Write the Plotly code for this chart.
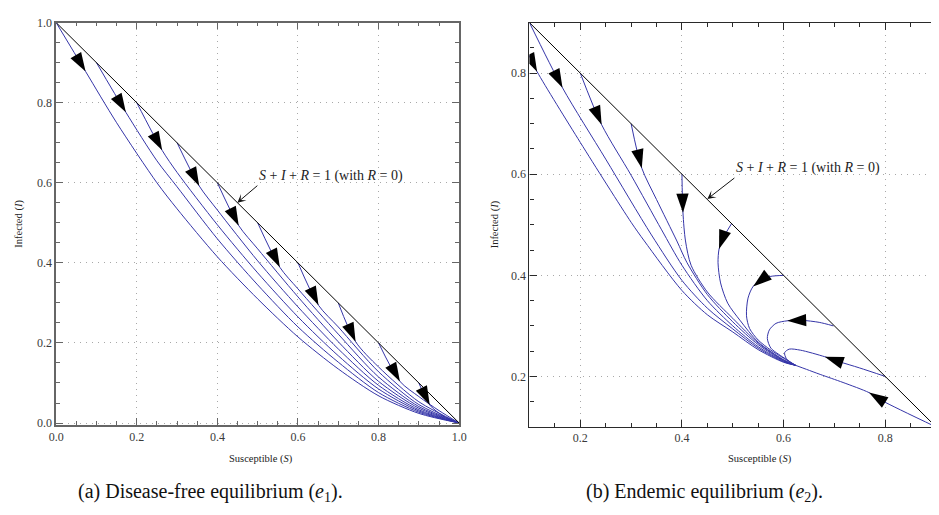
import plotly.graph_objects as go

# ---------------- (a) disease-free equilibrium ----------------
# trajectories in the (S, I) plane, one per starting point on S + I = 1
a_S = [
    [0.0, 0.073, 0.15, 0.25, 0.30, 0.40, 0.50, 0.60, 0.70, 0.80, 0.90, 1.0],
    [0.1, 0.173, 0.25, 0.30, 0.40, 0.50, 0.60, 0.70, 0.80, 0.90, 1.0],
    [0.2, 0.263, 0.30, 0.40, 0.50, 0.60, 0.70, 0.80, 0.90, 1.0],
    [0.3, 0.355, 0.40, 0.50, 0.60, 0.70, 0.80, 0.90, 1.0],
    [0.4, 0.453, 0.50, 0.60, 0.70, 0.80, 0.90, 1.0],
    [0.5, 0.555, 0.60, 0.70, 0.80, 0.90, 1.0],
    [0.6, 0.651, 0.70, 0.80, 0.90, 1.0],
    [0.7, 0.743, 0.80, 0.90, 1.0],
    [0.8, 0.853, 0.90, 0.95, 1.0],
    [0.9, 0.927, 0.96, 1.0],
]
a_I = [
    [1.0, 0.878, 0.75, 0.60, 0.535, 0.415, 0.31, 0.215, 0.135, 0.068, 0.024, 0.0],
    [0.9, 0.776, 0.655, 0.59, 0.46, 0.345, 0.24, 0.152, 0.076, 0.027, 0.0],
    [0.8, 0.681, 0.626, 0.495, 0.375, 0.265, 0.168, 0.085, 0.030, 0.0],
    [0.7, 0.592, 0.532, 0.405, 0.29, 0.185, 0.094, 0.033, 0.0],
    [0.6, 0.493, 0.435, 0.315, 0.203, 0.104, 0.037, 0.0],
    [0.5, 0.389, 0.335, 0.222, 0.115, 0.041, 0.0],
    [0.4, 0.294, 0.24, 0.128, 0.046, 0.0],
    [0.3, 0.203, 0.14, 0.053, 0.0],
    [0.2, 0.104, 0.066, 0.031, 0.0],
    [0.1, 0.045, 0.018, 0.0],
]
# direction arrows: a point behind the head and the head itself
a_tail_S = [0.0, 0.1, 0.2, 0.3, 0.4, 0.5, 0.6, 0.7, 0.8, 0.9]
a_tail_I = [1.0, 0.9, 0.8, 0.7, 0.6, 0.5, 0.4, 0.3, 0.2, 0.1]
a_tip_S = [0.073, 0.173, 0.263, 0.355, 0.453, 0.555, 0.651, 0.743, 0.853, 0.927]
a_tip_I = [0.878, 0.776, 0.681, 0.592, 0.493, 0.389, 0.294, 0.203, 0.104, 0.045]

# ---------------- (b) endemic equilibrium ----------------
b_S = [
    [0.0, 0.097, 0.115, 0.20, 0.30, 0.326, 0.40, 0.45, 0.50, 0.55, 0.60, 0.6235],
    [0.1, 0.165, 0.25, 0.34, 0.40, 0.45, 0.50, 0.55, 0.60, 0.6235],
    [0.2, 0.242, 0.30, 0.36, 0.40, 0.45, 0.50, 0.55, 0.60, 0.6235],
    [0.3, 0.321, 0.35, 0.39, 0.41, 0.45, 0.50, 0.55, 0.60, 0.6235],
    [0.4, 0.402, 0.407, 0.418, 0.45, 0.50, 0.55, 0.60, 0.6235],
    [0.498, 0.479, 0.473, 0.471, 0.476, 0.49, 0.515, 0.55, 0.60, 0.6235],
    [0.6, 0.575, 0.559, 0.54, 0.53, 0.527, 0.533, 0.55, 0.575, 0.60, 0.6235],
    [0.698, 0.67, 0.636, 0.607, 0.585, 0.572, 0.568, 0.575, 0.59, 0.605, 0.6235],
    [0.8, 0.749, 0.71, 0.681, 0.633, 0.611, 0.602, 0.605, 0.613, 0.6235],
    [0.9, 0.794, 0.768, 0.717, 0.672, 0.645, 0.6235],
]
b_I = [
    [1.0, 0.839, 0.803, 0.663, 0.505, 0.468, 0.37, 0.322, 0.288, 0.253, 0.228, 0.222],
    [0.9, 0.771, 0.63, 0.48, 0.39, 0.335, 0.294, 0.256, 0.229, 0.222],
    [0.8, 0.698, 0.598, 0.49, 0.42, 0.35, 0.30, 0.259, 0.230, 0.222],
    [0.7, 0.612, 0.55, 0.468, 0.425, 0.362, 0.308, 0.263, 0.231, 0.222],
    [0.6, 0.524, 0.468, 0.42, 0.367, 0.315, 0.266, 0.232, 0.222],
    [0.503, 0.47, 0.452, 0.425, 0.385, 0.345, 0.31, 0.268, 0.233, 0.222],
    [0.4, 0.398, 0.393, 0.378, 0.355, 0.32, 0.295, 0.272, 0.252, 0.236, 0.222],
    [0.30, 0.307, 0.311, 0.310, 0.305, 0.292, 0.275, 0.256, 0.244, 0.234, 0.222],
    [0.2, 0.217, 0.229, 0.239, 0.252, 0.254, 0.247, 0.236, 0.228, 0.222],
    [0.1, 0.152, 0.168, 0.188, 0.204, 0.214, 0.222],
]
b_tail_S = [0.097, 0.1, 0.2, 0.3, 0.4, 0.479, 0.559, 0.636, 0.71, 0.794]
b_tail_I = [0.839, 0.9, 0.8, 0.7, 0.6, 0.47, 0.393, 0.311, 0.229, 0.152]
b_tip_S = [0.115, 0.165, 0.242, 0.321, 0.402, 0.473, 0.54, 0.607, 0.681, 0.768]
b_tip_I = [0.803, 0.771, 0.698, 0.612, 0.524, 0.452, 0.378, 0.310, 0.239, 0.168]

# boundary S + I = 1 (R = 0) and where its label points to
edge_S = [0.0, 1.0]
edge_I = [1.0, 0.0]
pointer_a = (0.4496, 0.5504)
pointer_b = (0.450, 0.551)

# axis ticks
a_ticks = [0.0, 0.2, 0.4, 0.6, 0.8, 1.0]
a_ticktext = ["0.0", "0.2", "0.4", "0.6", "0.8", "1.0"]
b_ticks = [0.2, 0.4, 0.6, 0.8]
b_ticktext = ["0.2", "0.4", "0.6", "0.8"]

W, H = 939, 515
CURVE = "#3535a8"
SERIF = "Liberation Serif, Times New Roman, Times, serif"
TICKFONT = dict(family=SERIF, size=12, color="#3a3a3a")

fig = go.Figure()


def add_panel(S, I, tail_S, tail_I, tip_S, tip_I, xa, ya):
    for s, i in zip(S, I):
        fig.add_trace(go.Scatter(
            x=s, y=i, mode="lines", xaxis=xa, yaxis=ya,
            line=dict(color=CURVE, width=1, shape="spline", smoothing=0.8),
            hoverinfo="skip", showlegend=False))
    fig.add_trace(go.Scatter(
        x=edge_S, y=edge_I, mode="lines", xaxis=xa, yaxis=ya,
        line=dict(color="black", width=1), hoverinfo="skip", showlegend=False))
    # arrow heads: each head is oriented from the preceding (invisible) point
    xs, ys, sizes = [], [], []
    for ts, ti, hs, hi in zip(tail_S, tail_I, tip_S, tip_I):
        xs += [ts, hs]
        ys += [ti, hi]
        sizes += [0, 20]
    fig.add_trace(go.Scatter(
        x=xs, y=ys, mode="markers", xaxis=xa, yaxis=ya,
        marker=dict(symbol="arrow", size=sizes, angleref="previous",
                    color="black", opacity=1, line=dict(width=0)),
        hoverinfo="skip", showlegend=False))


add_panel(a_S, a_I, a_tail_S, a_tail_I, a_tip_S, a_tip_I, "x", "y")
add_panel(b_S, b_I, b_tail_S, b_tail_I, b_tip_S, b_tip_I, "x2", "y2")


def axis_style(linecolor, linewidth):
    return dict(
        showline=True, linecolor=linecolor, linewidth=linewidth,
        ticks="inside", ticklen=7, tickwidth=1, tickcolor=linecolor,
        showgrid=True, gridcolor="#a8a8a8", griddash="1px,5px", gridwidth=1,
        zeroline=False, tickfont=TICKFONT,
        minor=dict(dtick=0.05, ticks="inside", ticklen=4, tickcolor=linecolor,
                   showgrid=False),
    )


left_axis = axis_style("#666666", 1.6)
right_axis = axis_style("#2a2a2a", 1.2)

top, bottom_a, bottom_b = 1 - 16 / H, 1 - 428 / H, 1 - 430 / H
fig.update_layout(
    width=W, height=H,
    margin=dict(l=0, r=0, t=0, b=0),
    paper_bgcolor="white", plot_bgcolor="white",
    xaxis=dict(left_axis, domain=[49 / W, 459 / W], range=[0, 1.0],
               tickvals=a_ticks, ticktext=a_ticktext, mirror="ticks",
               anchor="y"),
    yaxis=dict(left_axis, domain=[bottom_a, top], range=[-0.005, 1.0],
               tickvals=a_ticks, ticktext=a_ticktext, mirror="ticks",
               anchor="x"),
    xaxis2=dict(right_axis, domain=[530.5 / W, 1.0], range=[0.1, 0.89],
                tickvals=b_ticks, ticktext=b_ticktext, mirror="ticks",
                anchor="y2"),
    yaxis2=dict(right_axis, domain=[bottom_b, top], range=[0.1, 0.9],
                tickvals=b_ticks, ticktext=b_ticktext, mirror=False,
                anchor="x2"),
)


def text_at(px, py, text, size, color="#222", angle=0, xanchor="center"):
    return dict(xref="paper", yref="paper", x=px / W, y=1 - py / H,
                text=text, showarrow=False, textangle=angle,
                xanchor=xanchor, yanchor="middle",
                font=dict(family=SERIF, size=size, color=color))


def pointer_label(xa, ya, tip, ax, ay, text):
    # label whose lower-left corner is the tail of a small arrow to the line
    return dict(xref=xa, yref=ya, x=tip[0], y=tip[1], ax=ax, ay=ay,
                text=text, xanchor="left", yanchor="bottom",
                showarrow=True, arrowhead=3, arrowsize=1.4, arrowwidth=1,
                arrowcolor="#111", standoff=0,
                font=dict(family=SERIF, size=14, color="#222"))


label = "<i>S</i> + <i>I</i> + <i>R</i> = 1 (with <i>R</i> = 0)"
ann = [
    pointer_label("x", "y", pointer_a, 20, -17, label),
    pointer_label("x2", "y2", pointer_b, 27, -21, label),
    # axis titles
    text_at(257, 463, "Susceptible (<i>S</i>)", 10.5),
    text_at(765, 463, "Susceptible (<i>S</i>)", 10.5),
    text_at(11, 222, "Infected (<i>I</i>)", 10.5, angle=-90),
    text_at(495, 223, "Infected (<i>I</i>)", 10.5, angle=-90),
    # sub-figure captions
    text_at(206, 497, "(a) Disease-free equilibrium (<i>e</i><sub>1</sub>).",
            20, color="#111"),
    text_at(709, 497, "(b) Endemic equilibrium (<i>e</i><sub>2</sub>).",
            20, color="#111"),
]
fig.update_layout(annotations=ann)

fig.write_html("out.html")
